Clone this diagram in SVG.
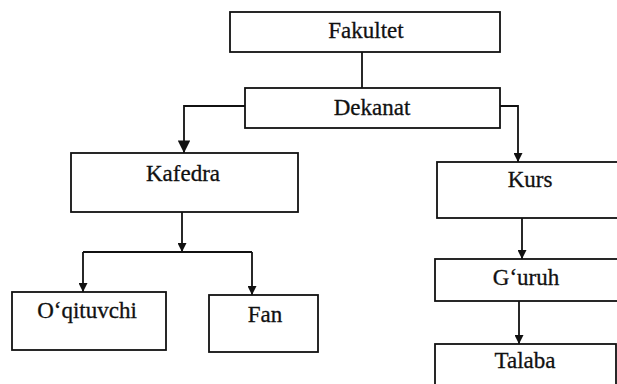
<svg xmlns="http://www.w3.org/2000/svg" width="617" height="384" viewBox="0 0 617 384">
<defs>
<style>
.box{fill:#fff;stroke:#111;stroke-width:1.8}
.lbl{font-size:23px;fill:#111;stroke:#111;stroke-width:0.3;text-anchor:middle}
.c{fill:none;stroke:#111;stroke-width:1.8}
</style>
<marker id="ah" viewBox="0 0 10 10" refX="10" refY="5" markerWidth="5.5" markerHeight="5" markerUnits="strokeWidth" orient="auto">
<path d="M0,0 L10,5 L0,10 Z" fill="#111"/>
</marker>
<marker id="ahb" viewBox="0 0 10 10" refX="10" refY="5" markerWidth="8" markerHeight="7" markerUnits="strokeWidth" orient="auto">
<path d="M0,0 L10,5 L0,10 Z" fill="#111"/>
</marker>
</defs>
<rect width="617" height="384" fill="#fff"/>
<g id="connectors">
<line class="c" x1="362" y1="52" x2="362" y2="88"/>
<polyline class="c" points="245,106 184,106 184,153" marker-end="url(#ahb)"/>
<polyline class="c" points="500,106 518,106 518,162" marker-end="url(#ah)"/>
<line class="c" x1="182" y1="212" x2="182" y2="252" marker-end="url(#ah)"/>
<line class="c" x1="83" y1="252" x2="252" y2="252"/>
<line class="c" x1="83" y1="252" x2="83" y2="292" marker-end="url(#ah)"/>
<line class="c" x1="252" y1="252" x2="252" y2="295" marker-end="url(#ah)"/>
<line class="c" x1="522" y1="218" x2="522" y2="259" marker-end="url(#ah)"/>
<line class="c" x1="519" y1="301" x2="519" y2="344" marker-end="url(#ah)"/>
</g>
<g id="fakultet"><rect class="box" x="230" y="12" width="270" height="40"/><text class="lbl" font-family="Liberation Serif, serif" x="366" y="38">Fakultet</text></g>
<g id="dekanat"><rect class="box" x="245" y="88" width="255" height="40"/><text class="lbl" font-family="Liberation Serif, serif" x="372" y="115">Dekanat</text></g>
<g id="kafedra"><rect class="box" x="71" y="153" width="227" height="59"/><text class="lbl" font-family="Liberation Serif, serif" x="183" y="181">Kafedra</text></g>
<g id="oqituvchi"><rect class="box" x="12" y="292" width="154" height="58"/><text class="lbl" font-family="Liberation Serif, serif" x="87" y="318">O‘qituvchi</text></g>
<g id="fan"><rect class="box" x="209" y="295" width="109" height="57"/><text class="lbl" font-family="Liberation Serif, serif" x="265" y="322">Fan</text></g>
<g id="kurs"><rect class="box" x="437" y="162" width="190" height="56"/><text class="lbl" font-family="Liberation Serif, serif" x="530" y="187">Kurs</text></g>
<g id="guruh"><rect class="box" x="435" y="259" width="192" height="42"/><text class="lbl" font-family="Liberation Serif, serif" x="526" y="285">G‘uruh</text></g>
<g id="talaba"><rect class="box" x="435" y="344" width="181" height="50"/><text class="lbl" font-family="Liberation Serif, serif" x="525" y="368">Talaba</text></g>
</svg>
